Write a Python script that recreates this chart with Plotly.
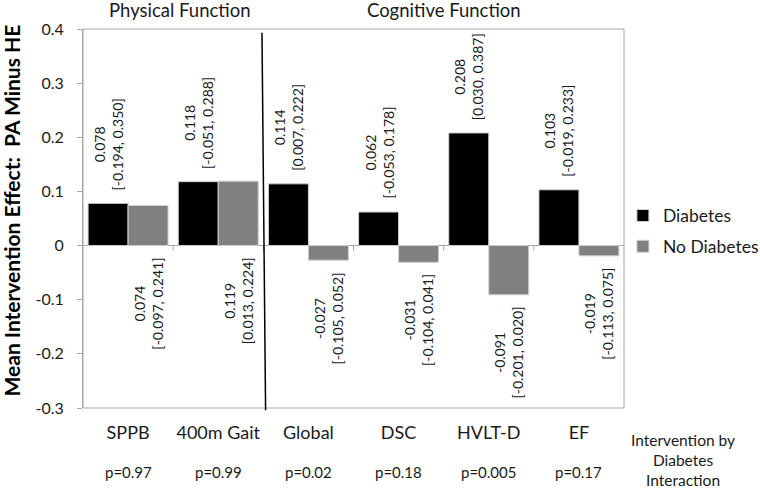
import plotly.graph_objects as go

categories = ["SPPB", "400m Gait", "Global", "DSC", "HVLT-D", "EF"]
diabetes = [0.078, 0.118, 0.114, 0.062, 0.208, 0.103]
diabetes_ci = ["[-0.194, 0.350]", "[-0.051, 0.288]", "[0.007, 0.222]",
               "[-0.053, 0.178]", "[0.030, 0.387]", "[-0.019, 0.233]"]
no_diabetes = [0.074, 0.119, -0.027, -0.031, -0.091, -0.019]
no_diabetes_ci = ["[-0.097, 0.241]", "[0.013, 0.224]", "[-0.105, 0.052]",
                  "[-0.104, 0.041]", "[-0.201, 0.020]", "[-0.113, 0.075]"]
p_values = ["p=0.97", "p=0.99", "p=0.02", "p=0.18", "p=0.005", "p=0.17"]
physical_cats = ["SPPB", "400m Gait"]
cognitive_cats = ["Global", "DSC", "HVLT-D", "EF"]
y_ticks = [-0.3, -0.2, -0.1, 0, 0.1, 0.2, 0.3, 0.4]
y_ticklabels = ["-0.3", "-0.2", "-0.1", "0", "0.1", "0.2", "0.3", "0.4"]

FONT = "Lato"
TXT = "#1a1a1a"
AXC = "#a6a6a6"
BARGAP = 0.113
half = (1 - BARGAP) / 4  # offset of each bar centre from category centre

fig = go.Figure()
fig.add_trace(go.Bar(x=categories, y=diabetes, name="Diabetes",
                     marker=dict(color="#000000", line=dict(color="#d0d0d0", width=1)),
                     legendgroup="a"))
fig.add_trace(go.Bar(x=categories, y=no_diabetes, name="No Diabetes",
                     marker=dict(color="#808080", line=dict(color="#d0d0d0", width=1)),
                     legendgroup="b"))

ann = []
for i, (v, ci) in enumerate(zip(diabetes, diabetes_ci)):
    ann.append(dict(x=i - half, y=v, xref="x", yref="y", text=f"{v:.3f}<br>{ci}",
                    textangle=-90, showarrow=False, xanchor="center",
                    yanchor="bottom" if v >= 0 else "top", yshift=11 if v >= 0 else -11,
                    font=dict(family=FONT, size=14, color=TXT)))
for i, (v, ci) in enumerate(zip(no_diabetes, no_diabetes_ci)):
    ann.append(dict(x=i + half, y=min(v, 0), xref="x", yref="y", text=f"{v:.3f}<br>{ci}",
                    textangle=-90, showarrow=False, xanchor="center", yanchor="top",
                    yshift=-10, font=dict(family=FONT, size=14, color=TXT)))
for i, p in enumerate(p_values):
    ann.append(dict(x=i, y=-0.169, xref="x", yref="paper", text=p, showarrow=False,
                    xanchor="center", yanchor="middle",
                    font=dict(family=FONT, size=15, color=TXT)))
ann.append(dict(x=1.109, y=-0.137, xref="paper", yref="paper",
                text="Intervention by<br>Diabetes<br>Interaction", showarrow=False,
                xanchor="center", yanchor="middle", align="center",
                font=dict(family=FONT, size=15.5, color=TXT)))
for name, cats, xs in [("Physical Function", physical_cats, 7), ("Cognitive Function", cognitive_cats, 0)]:
    idx = [categories.index(c) for c in cats]
    ann.append(dict(x=sum(idx) / len(idx), y=1.0, xref="x", yref="paper", text=name,
                    showarrow=False, xanchor="center", yanchor="middle", yshift=19, xshift=xs,
                    font=dict(family=FONT, size=18.5, color=TXT)))
ann.append(dict(x=-0.132, y=0.52, xref="paper", yref="paper",
                text="<b>Mean Intervention Effect:  PA Minus HE</b>", textangle=-90,
                showarrow=False, xanchor="center", yanchor="middle",
                font=dict(family=FONT, size=21, color="#000000")))

shapes = [dict(type="rect", xref="paper", yref="paper", x0=0, x1=1, y0=0, y1=1,
               line=dict(color=AXC, width=1), layer="above")]
for k in range(1, len(categories)):
    shapes.append(dict(type="line", xref="x", yref="y", x0=k - 0.5, x1=k - 0.5,
                       ysizemode="pixel", yanchor=0, y0=0, y1=-5,
                       line=dict(color=AXC, width=1)))
sep = len(physical_cats) - 0.5
shapes.append(dict(type="line", xref="x", yref="paper", x0=sep - 0.015, x1=sep + 0.025,
                   y0=0.99, y1=-0.006, line=dict(color="#000000", width=1.5)))

fig.update_layout(
    width=760, height=488,
    margin=dict(l=83, r=136, t=29, b=80, autoexpand=False),
    paper_bgcolor="white", plot_bgcolor="white",
    barmode="group", bargap=BARGAP, bargroupgap=0,
    font=dict(family=FONT, color=TXT),
    showlegend=True,
    legend=dict(x=0.998, y=0.555, xanchor="left", yanchor="top", tracegroupgap=5,
                font=dict(family=FONT, size=17.5, color=TXT), bgcolor="rgba(0,0,0,0)"),
    annotations=ann, shapes=shapes,
    xaxis=dict(type="category", showline=False, ticks="", showgrid=False, zeroline=False,
               tickfont=dict(family=FONT, size=18, color=TXT), ticklabelstandoff=12),
    yaxis=dict(range=[-0.3, 0.4], tickvals=y_ticks, ticktext=y_ticklabels,
               showline=True, linecolor=AXC, linewidth=1, ticks="outside", ticklen=5,
               tickcolor=AXC, showgrid=False, zeroline=True, zerolinecolor=AXC,
               zerolinewidth=1, tickfont=dict(family=FONT, size=16, color=TXT),
               ticklabelstandoff=10),
)

fig.write_html("out.html", config={"displayModeBar": False},
               post_script="document.body.style.margin='0';document.body.style.padding='0';document.body.style.overflow='hidden';")
